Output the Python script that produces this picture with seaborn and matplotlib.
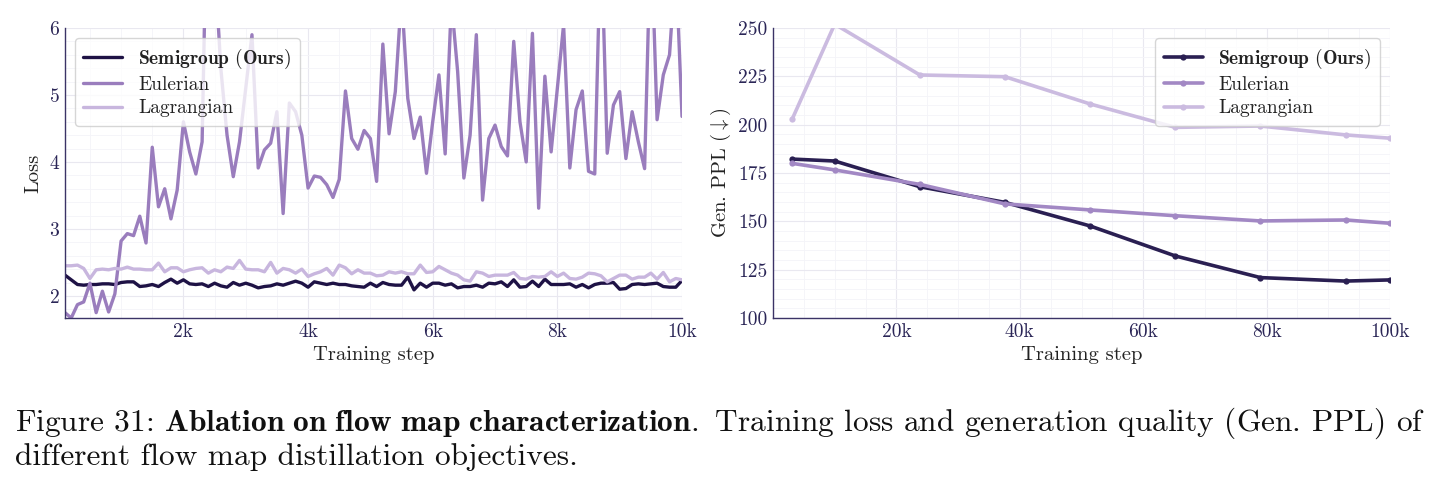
import matplotlib
matplotlib.use("Agg")
import matplotlib.pyplot as plt
import seaborn as sns
import pandas as pd
from matplotlib.ticker import MultipleLocator, FixedLocator, FuncFormatter

# ---- data ----
loss_steps = list(range(100, 10001, 100))

loss_semigroup = [
    2.31, 2.24, 2.17, 2.16, 2.17, 2.17, 2.18, 2.18, 2.17, 2.20,
    2.21, 2.21, 2.14, 2.15, 2.17, 2.14, 2.20, 2.25, 2.19, 2.24,
    2.18, 2.17, 2.18, 2.14, 2.19, 2.15, 2.13, 2.20, 2.16, 2.19,
    2.16, 2.12, 2.14, 2.15, 2.18, 2.16, 2.19, 2.22, 2.19, 2.13,
    2.21, 2.19, 2.17, 2.19, 2.17, 2.17, 2.15, 2.14, 2.13, 2.19,
    2.14, 2.20, 2.17, 2.16, 2.16, 2.28, 2.09, 2.19, 2.13, 2.19,
    2.19, 2.16, 2.18, 2.12, 2.14, 2.14, 2.16, 2.13, 2.19, 2.18,
    2.21, 2.14, 2.24, 2.13, 2.14, 2.22, 2.14, 2.25, 2.17, 2.17,
    2.17, 2.18, 2.13, 2.17, 2.12, 2.17, 2.19, 2.19, 2.20, 2.10,
    2.11, 2.17, 2.18, 2.17, 2.18, 2.19, 2.14, 2.13, 2.13, 2.23,
]
loss_eulerian = [
    1.75, 1.67, 1.87, 1.91, 2.19, 1.75, 2.07, 1.76, 2.03, 2.82,
    2.93, 2.90, 3.19, 2.79, 4.22, 3.33, 3.60, 3.15, 3.58, 4.60,
    4.15, 3.82, 4.30, 9.00, 7.00, 5.40, 4.40, 3.78, 4.30, 5.10,
    5.90, 3.91, 4.18, 4.28, 4.75, 3.23, 4.88, 4.75, 4.40, 3.61,
    3.79, 3.77, 3.66, 3.47, 3.74, 5.06, 4.35, 4.19, 4.47, 4.35,
    3.71, 5.76, 4.42, 5.05, 6.50, 4.95, 4.35, 4.67, 3.83, 4.60,
    5.30, 4.12, 6.40, 5.35, 3.76, 4.40, 5.90, 3.43, 4.35, 4.55,
    4.23, 4.09, 5.80, 4.60, 4.00, 5.92, 3.31, 5.28, 4.15, 5.10,
    6.05, 3.91, 4.78, 5.06, 3.86, 3.82, 7.50, 4.13, 4.85, 5.05,
    4.05, 4.75, 4.30, 3.90, 7.50, 4.63, 5.30, 5.60, 7.00, 4.68,
]
loss_lagrangian = [
    2.45, 2.45, 2.46, 2.41, 2.26, 2.39, 2.40, 2.39, 2.41, 2.40,
    2.43, 2.40, 2.40, 2.39, 2.39, 2.49, 2.36, 2.42, 2.42, 2.36,
    2.39, 2.41, 2.42, 2.34, 2.39, 2.36, 2.43, 2.41, 2.53, 2.40,
    2.39, 2.39, 2.36, 2.50, 2.34, 2.41, 2.39, 2.34, 2.40, 2.29,
    2.33, 2.36, 2.41, 2.31, 2.46, 2.42, 2.33, 2.39, 2.34, 2.34,
    2.30, 2.31, 2.36, 2.34, 2.36, 2.33, 2.33, 2.46, 2.35, 2.36,
    2.44, 2.39, 2.34, 2.31, 2.24, 2.22, 2.36, 2.34, 2.29, 2.31,
    2.31, 2.31, 2.35, 2.26, 2.25, 2.29, 2.28, 2.29, 2.36, 2.29,
    2.34, 2.26, 2.25, 2.28, 2.34, 2.33, 2.30, 2.21, 2.26, 2.31,
    2.31, 2.25, 2.28, 2.28, 2.34, 2.25, 2.35, 2.21, 2.26, 2.24,
]

ppl_steps = [3100, 10000, 23800, 37600, 51400, 65200, 79000, 92800, 100000]
ppl_semigroup = [182.2, 181.2, 167.9, 159.8, 147.6, 132.1, 120.9, 119.1, 119.7]
ppl_eulerian = [180.0, 176.6, 169.1, 159.0, 155.9, 152.9, 150.2, 150.7, 149.0]
ppl_lagrangian = [202.8, 252.0, 225.7, 224.8, 210.7, 198.6, 199.3, 194.7, 193.0]

methods = ["Semigroup (Ours)", "Eulerian", "Lagrangian"]
labels = [r"$\mathbf{Semigroup\ (Ours)}$", "Eulerian", "Lagrangian"]
colors = ["#1e1245", "#9a7dbd", "#c8b6de"]
ppl_colors = ["#2a1f52", "#a288c4", "#cbbbe0"]

caption_1 = (r"Figure 31: $\mathbf{Ablation\ on\ flow\ map\ characterization.}$"
             " Training loss and generation quality (Gen. PPL) of")
caption_2 = "different flow map distillation objectives."

# ---- long-form tables for seaborn ----
loss_df = pd.DataFrame({
    "step": loss_steps * 3,
    "loss": loss_semigroup + loss_eulerian + loss_lagrangian,
    "method": sum([[m] * len(loss_steps) for m in methods], []),
})
ppl_df = pd.DataFrame({
    "step": ppl_steps * 3,
    "ppl": ppl_semigroup + ppl_eulerian + ppl_lagrangian,
    "method": sum([[m] * len(ppl_steps) for m in methods], []),
})

sns.set_theme(style="white")
plt.rcParams["font.family"] = "serif"
plt.rcParams["font.serif"] = ["cmr10"]
plt.rcParams["mathtext.fontset"] = "cm"
plt.rcParams["axes.formatter.use_mathtext"] = True

spine_col = "#3b3366"
tick_col = "#2b2657"

fig = plt.figure(figsize=(14.35, 4.9), dpi=100)
ax1 = fig.add_axes([65 / 1435, 172 / 490, 617 / 1435, 290 / 490])
ax2 = fig.add_axes([773 / 1435, 172 / 490, 617 / 1435, 290 / 490])

k_fmt = FuncFormatter(lambda v, p: f"{int(v / 1000)}k")


def style_axes(ax):
    for s in ["top", "right"]:
        ax.spines[s].set_visible(False)
    for s in ["left", "bottom"]:
        ax.spines[s].set_color(spine_col)
        ax.spines[s].set_linewidth(1.0)
    ax.tick_params(which="both", direction="in", colors=spine_col,
                   labelcolor=tick_col, labelsize=14)
    ax.tick_params(which="major", length=5, width=0.9, pad=4)
    ax.tick_params(which="minor", length=3, width=0.7)
    ax.grid(which="major", color="#e9e8f0", linewidth=0.8)
    ax.grid(which="minor", color="#f4f4f8", linewidth=0.6)
    ax.set_axisbelow(True)


# left: training loss
sns.lineplot(data=loss_df, x="step", y="loss", hue="method", hue_order=methods,
             palette=colors, linewidth=2.4, ax=ax1, legend=False)
ax1.set_xlim(100, 10000)
ax1.set_ylim(1.67, 6)
ax1.xaxis.set_major_locator(FixedLocator([2000, 4000, 6000, 8000, 10000]))
ax1.xaxis.set_minor_locator(MultipleLocator(500))
ax1.xaxis.set_major_formatter(k_fmt)
ax1.yaxis.set_major_locator(MultipleLocator(1))
ax1.yaxis.set_minor_locator(MultipleLocator(0.2))
ax1.yaxis.set_major_formatter(FuncFormatter(lambda v, p: f"{int(v)}"))
ax1.set_xlabel("Training step", fontsize=14.8, color="#222222", labelpad=3)
ax1.set_ylabel("Loss", fontsize=14.8, color="#222222", labelpad=5)
style_axes(ax1)
leg1 = ax1.legend(ax1.get_lines()[:3], labels, loc="upper left", fontsize=14,
                  frameon=True, framealpha=0.8, edgecolor="#cccccc",
                  handlelength=2.0, borderpad=0.45, labelspacing=0.28,
                  borderaxespad=0.5)
for t in leg1.get_texts():
    t.set_color("#222222")

# right: generation perplexity
sns.lineplot(data=ppl_df, x="step", y="ppl", hue="method", hue_order=methods,
             palette=ppl_colors, linewidth=2.6, marker="o", markersize=4.5,
             markeredgewidth=0, ax=ax2, legend=False)
ax2.set_xlim(0, 100000)
ax2.set_ylim(100, 250)
ax2.xaxis.set_major_locator(FixedLocator([20000, 40000, 60000, 80000, 100000]))
ax2.xaxis.set_minor_locator(MultipleLocator(5000))
ax2.xaxis.set_major_formatter(k_fmt)
ax2.yaxis.set_major_locator(MultipleLocator(25))
ax2.yaxis.set_minor_locator(MultipleLocator(5))
ax2.yaxis.set_major_formatter(FuncFormatter(lambda v, p: f"{int(v)}"))
ax2.set_xlabel("Training step", fontsize=14.8, color="#222222", labelpad=3)
ax2.set_ylabel(r"Gen. PPL ($\downarrow$)", fontsize=14.8, color="#222222", labelpad=4)
style_axes(ax2)
leg2 = ax2.legend(ax2.get_lines()[:3], labels, loc="upper right", fontsize=14,
                  frameon=True, framealpha=0.8, edgecolor="#cccccc",
                  handlelength=2.0, borderpad=0.45, labelspacing=0.28,
                  borderaxespad=0.5)
for t in leg2.get_texts():
    t.set_color("#222222")

# caption under the panels
fig.text(15 / 1435, 1 - 431 / 490, caption_1, fontsize=22.6, color="#111111")
fig.text(15 / 1435, 1 - 465 / 490, caption_2, fontsize=22.6, color="#111111")

fig.savefig("out.png", dpi=100, facecolor="white")
